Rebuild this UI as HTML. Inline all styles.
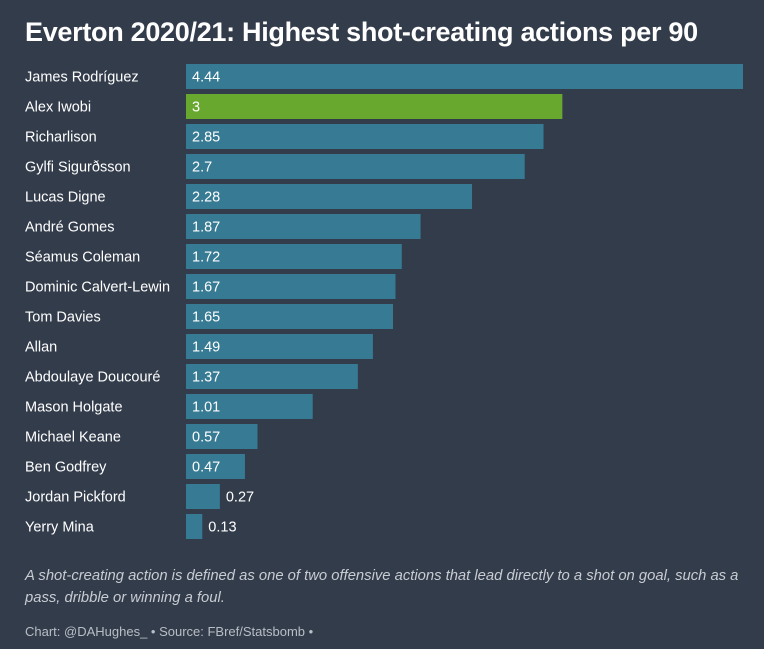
<!DOCTYPE html>
<html><head><meta charset="utf-8"><style>
body{margin:0;width:764px;height:649px;background:#333c4b;font-family:"Liberation Sans",sans-serif;overflow:hidden;position:relative}
#title{position:absolute;left:25px;top:17px;font-size:27px;font-weight:bold;color:#fff;letter-spacing:-0.3px}
.note{position:absolute;left:25px;color:#ccd0d6}
</style></head><body>
<div id="title">Everton 2020/21: Highest shot-creating actions per 90</div>
<svg id="chart" width="764" height="560" style="position:absolute;left:0;top:0"></svg>
<div class="note" style="top:565px;font-size:14.8px;font-style:italic;line-height:22px;width:730px;color:#c8ccd3">A shot-creating action is defined as one of two offensive actions that lead directly to a shot on goal, such as a pass, dribble or winning a foul.</div>
<div class="note" style="top:624px;font-size:13px;color:#b9bec6">Chart: @DAHughes_ • Source: FBref/Statsbomb •</div>
<script>
const players=["James Rodríguez","Alex Iwobi","Richarlison","Gylfi Sigurðsson","Lucas Digne","André Gomes","Séamus Coleman","Dominic Calvert-Lewin","Tom Davies","Allan","Abdoulaye Doucouré","Mason Holgate","Michael Keane","Ben Godfrey","Jordan Pickford","Yerry Mina"];
const values=[4.44,3,2.85,2.7,2.28,1.87,1.72,1.67,1.65,1.49,1.37,1.01,0.57,0.47,0.27,0.13];
const highlight=["Alex Iwobi"];
const svg=document.getElementById('chart');
const NS='http://www.w3.org/2000/svg';
const x0=186,x1=743,maxV=Math.max(...values);
const xs=v=>v/maxV*(x1-x0);
const ys=i=>64+i*30;
players.forEach((p,i)=>{
 const y=ys(i);
 const lab=document.createElementNS(NS,'text');
 
 
 lab.setAttribute('x',25);lab.setAttribute('y',y+17.5);
 lab.setAttribute('fill','#fff');lab.setAttribute('font-size','14.5');
 lab.textContent=p;svg.appendChild(lab);
 const w=xs(values[i]);
 const r=document.createElementNS(NS,'rect');
 
 
 r.setAttribute('x',x0);r.setAttribute('y',y);r.setAttribute('width',w);r.setAttribute('height',25);
 r.setAttribute('fill',highlight.includes(p)?'#68a82f':'#367a94');
 svg.appendChild(r);
 const t=document.createElementNS(NS,'text');
 
 
 const inside=w>40;
 t.setAttribute('x',inside?x0+6:x0+w+6);t.setAttribute('y',y+17.5);
 t.setAttribute('fill','#fff');t.setAttribute('font-size','14.5');
 t.textContent=values[i];svg.appendChild(t);
});
</script>
</body></html>
